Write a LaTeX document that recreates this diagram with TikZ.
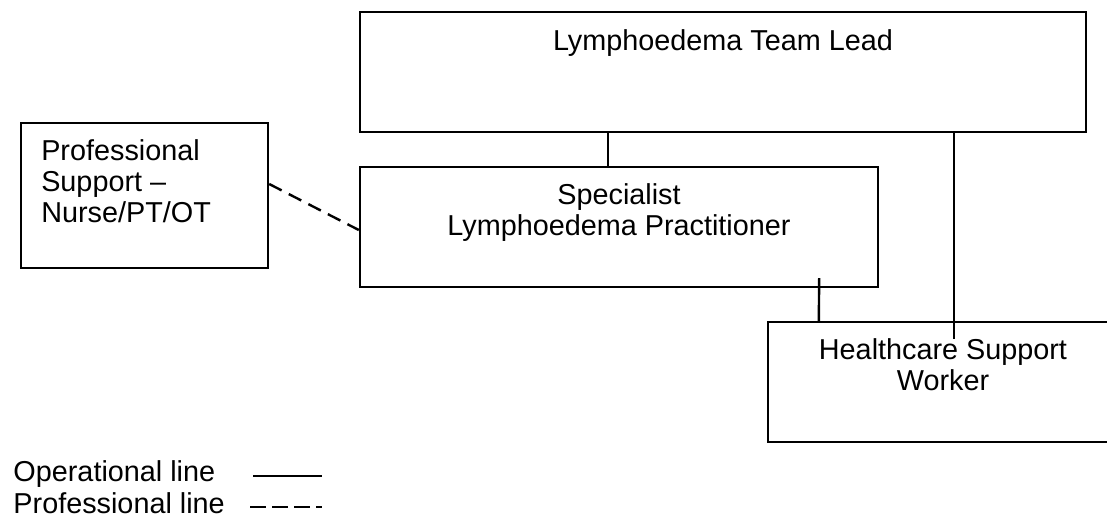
\documentclass[tikz,border=0pt]{standalone}
\usepackage{fontspec}
\setmainfont{Liberation Sans}
\usetikzlibrary{positioning}

\newdimen\px
\px=0.4167pt

\tikzset{
    box/.style={draw, line width=1pt, inner sep=0pt},
    txt/.style={inner sep=0pt, font=\fontsize{12}{13}\selectfont},
    opline/.style={line width=1pt},
    profline/.style={line width=1pt, dash pattern=on 14\px off 8\px},
}

\begin{document}
\begin{tikzpicture}[x=0.4167pt, y=-0.4167pt]
        \clip (0,0) rectangle (1107,517);

        % box team lead
        \node[box, minimum width=726\px, minimum height=120\px] (lead) at (723,72) {};
        \node[txt, anchor=base] (leadtxt) at ([yshift=-40\px]lead.north) {Lymphoedema Team Lead};

        % box specialist (base = last line)
        \node[box, minimum width=518\px, minimum height=120\px] (spec) at (619,227) {};
        \node[txt, anchor=base, align=center] (spectxt) at ([yshift=-70\px]spec.north)
            {Specialist\\Lymphoedema Practitioner};

        % box professional support
        \node[box, minimum width=247\px, minimum height=145\px] (prof) at (144.5,195.5) {};
        \node[txt, anchor=base west, align=left] (proftxt) at ([xshift=21\px, yshift=-101\px]prof.north west)
            {Professional\\Support –\\Nurse/PT/OT};

        % box healthcare support worker
        \node[box, minimum width=350\px, minimum height=120\px] (hsw) at (943,382) {};
        \node[txt, anchor=base, align=center] (hswtxt) at ([yshift=-70\px]hsw.north)
            {Healthcare Support\\Worker};

        % operational lines
        \draw[opline] ([xshift=-11\px]spec.north) -- ([xshift=-11\px]spec.north |- lead.south);
        \draw[opline] ([xshift=11\px]hsw.north |- lead.south) -- ([xshift=11\px, yshift=-18\px]hsw.north);
        \draw[opline] ([xshift=-60\px, yshift=10\px]spec.south east) -- ([xshift=52\px]hsw.north west);

        % professional line
        \draw[profline] ([yshift=11.5\px]prof.east) -- ([yshift=-3\px]spec.west);

        % legend
        \node[txt, anchor=base west] (oplbl) at (13,481) {Operational line};
        \node[txt, anchor=base west] (proflbl) at (13,513) {Professional line};
        \coordinate (op1) at (253,476);
        \coordinate (op2) at (322,476);
        \coordinate (pr1) at (250,507);
        \coordinate (pr2) at (322,507);
        \draw[opline] (op1) -- (op2);
        \draw[profline, dash pattern=on 16\px off 6\px] (pr1) -- (pr2);
\end{tikzpicture}
\end{document}
